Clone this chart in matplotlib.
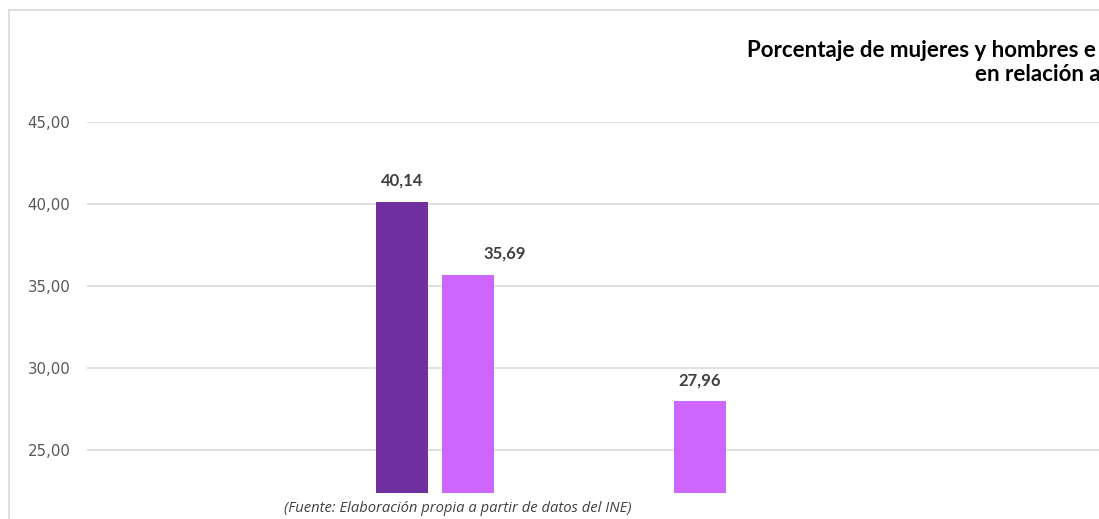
import numpy as np
import matplotlib
matplotlib.use("Agg")
import matplotlib.pyplot as plt
from matplotlib.patches import Rectangle

# Data (values visible in the cropped reference; NaN = not visible)
categories = ["", "", "", "", ""]
mujeres = [np.nan, 40.14, np.nan, np.nan, np.nan]
hombres = [np.nan, 35.69, 27.96, np.nan, np.nan]
yticks = [25, 30, 35, 40, 45]
title_line1 = "Porcentaje de mujeres y hombres e"
title_line2 = "en relación a"
caption = "(Fuente: Elaboración propia a partir de datos del INE)"

W, H = 1099, 519
fig = plt.figure(figsize=(W / 100, H / 100), dpi=100)
fig.patch.set_facecolor("white")

# chart area border
fig.patches.append(Rectangle((9 / W, -0.2), 1.5, (H - 10) / H + 0.2,
                             transform=fig.transFigure, fill=False,
                             edgecolor="#d9d9d9", linewidth=1.2))

cat_w = 232
left_px, top_px, bottom_px = 87, 122, 493
ax = fig.add_axes([left_px / W, (H - bottom_px) / H,
                   len(categories) * cat_w / W, (bottom_px - top_px) / H])

x = np.arange(len(categories))
bw = 52 / cat_w
gap = 14 / cat_w
c1, c2 = "#7030A0", "#CC66FF"
b1 = ax.bar(x - (bw + gap) / 2, mujeres, width=bw, color=c1, zorder=3)
b2 = ax.bar(x + (bw + gap) / 2, hombres, width=bw, color=c2, zorder=3)

ax.set_xlim(-0.5, len(categories) - 0.5)
ax.set_ylim(22.38, 45)
ax.set_yticks(yticks)
ax.set_yticklabels([f"{v:.2f}".replace(".", ",") for v in yticks],
                   fontsize=10.8, color="#595959", family="DejaVu Sans")
ax.tick_params(axis="y", length=0, pad=12)
ax.set_xticks([])
ax.grid(axis="y", color="#d9d9d9", linewidth=1.2, zorder=0)
for s in ax.spines.values():
    s.set_visible(False)

label_font = dict(fontsize=12, fontweight="bold", color="#404040", family="Lato")
label_dx = {(1, 1): 0.16}
for si, series in enumerate([mujeres, hombres]):
    bars = b1 if si == 0 else b2
    for i, (rect, v) in enumerate(zip(bars, series)):
        if np.isnan(v):
            continue
        cx = rect.get_x() + rect.get_width() / 2 + label_dx.get((si, i), 0)
        ax.annotate(f"{v:.2f}".replace(".", ","), (cx, v), xytext=(0, 9.5),
                    textcoords="offset points", ha="center", va="bottom",
                    **label_font)

title_font = dict(fontsize=16, fontweight="bold", color="black", family="Lato")
fig.text(747 / W, 1 - 57 / H, title_line1, ha="left", va="baseline", **title_font)
fig.text(975 / W, 1 - 81 / H, title_line2, ha="left", va="baseline", **title_font)

fig.text(458 / W, 1 - 508 / H, caption, ha="center", va="center",
         fontsize=10.6, style="italic", color="#404040", family="Open Sans")

fig.savefig("out.png", dpi=100)
